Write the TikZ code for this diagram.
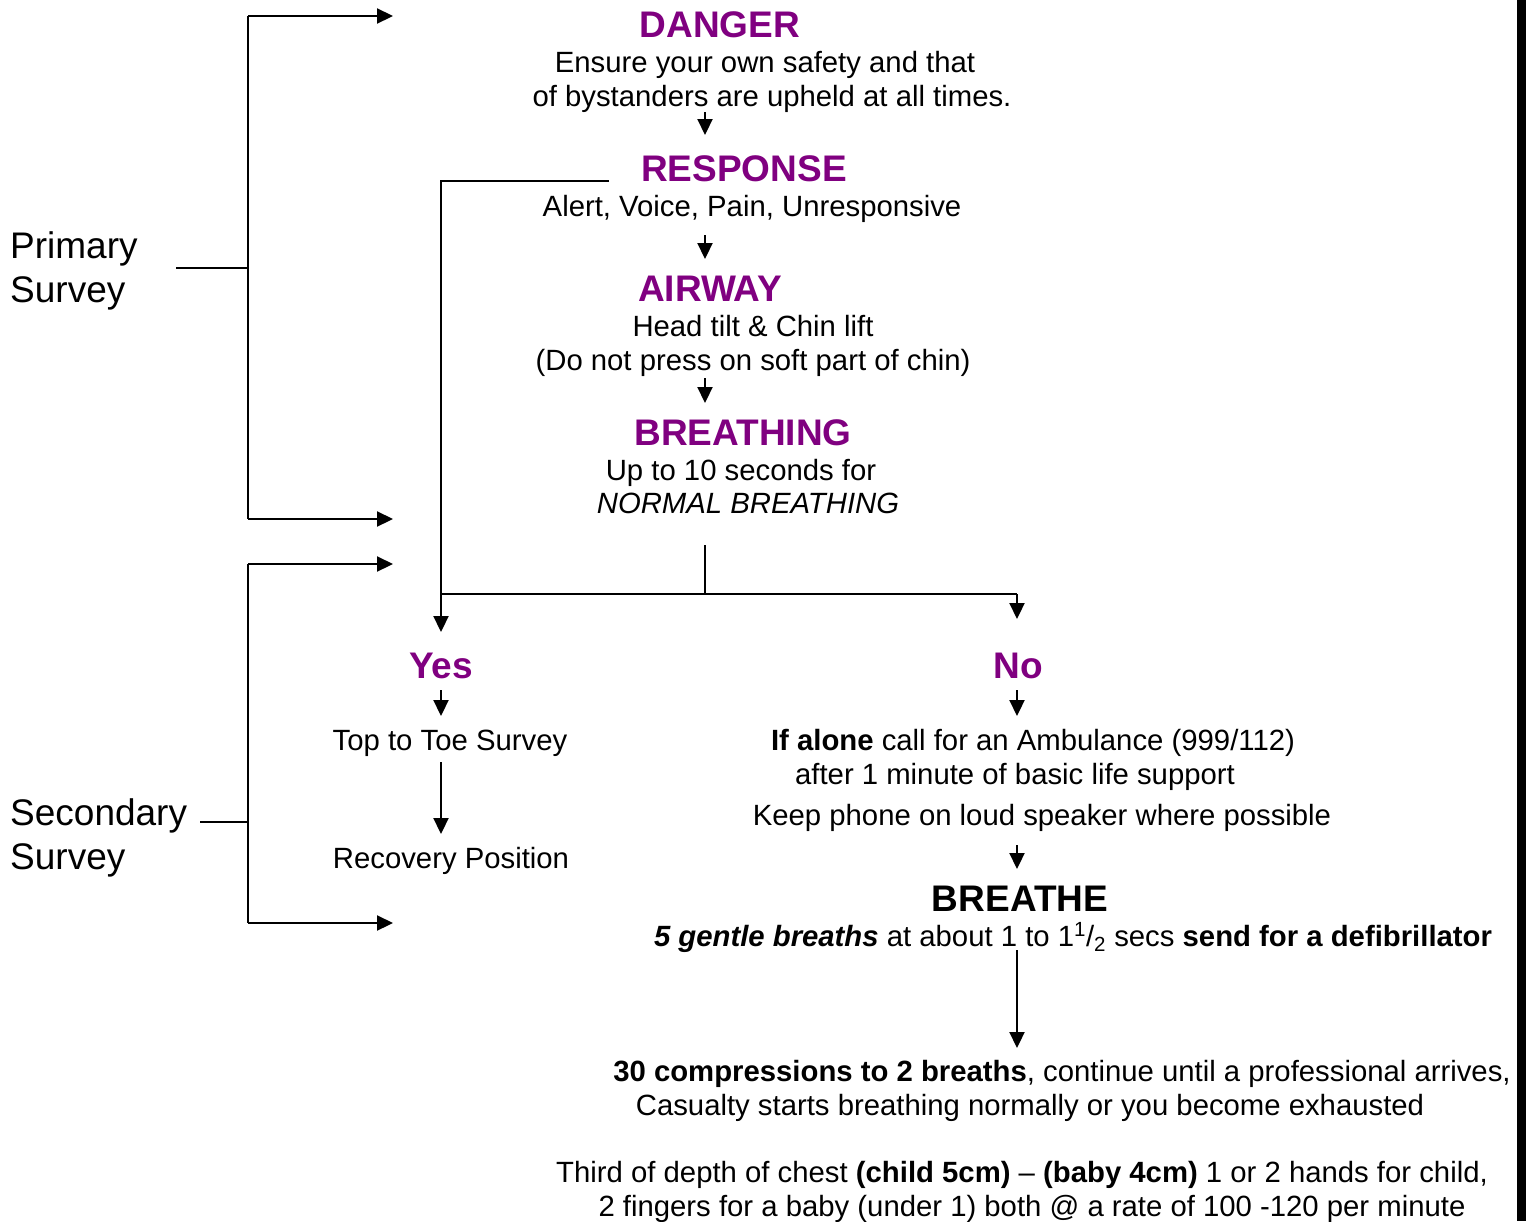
\documentclass[tikz,border=0pt]{standalone}
\usepackage{fontspec}
\setmainfont{Liberation Sans}
\usetikzlibrary{arrows.meta}
\definecolor{hd}{HTML}{800080}
\begin{document}
\begin{tikzpicture}[x=1pt,y=-1pt,
 body/.style={font=\fontsize{29.3}{34}\selectfont, inner sep=0pt, anchor=base},
 head/.style={font=\fontsize{37}{40}\selectfont\bfseries, text=hd, inner sep=0pt, anchor=base},
 side/.style={font=\fontsize{37}{44}\selectfont, inner sep=0pt, anchor=base west},
 ln/.style={line width=2.2pt},
 arr/.style={line width=2.2pt, -{Triangle[width=15pt,length=16pt]}}]
\useasboundingbox (0,0) rectangle (1526,1221);
\fill (1517,0) rectangle (1526,1221);
% texts
\node[head] (danger) at (720,37) {DANGER};
\node[body] (d1) at (765,72) {Ensure your own safety and that};
\node[body] (d2) at (772,106) {of bystanders are upheld at all times.};
\node[head] (resp) at (744,181) {RESPONSE};
\node[body] (r1) at (752,216) {Alert, Voice, Pain, Unresponsive};
\node[head] (air) at (710,301) {AIRWAY};
\node[body] (a1) at (753,336) {Head tilt \& Chin lift};
\node[body] (a2) at (753,370) {(Do not press on soft part of chin)};
\node[head] (br) at (743,445) {BREATHING};
\node[body] (b1) at (741,480) {Up to 10 seconds for};
\node[body] (b2) at (748,513) {\itshape NORMAL BREATHING};
\node[head] (yes) at (441,678) {Yes};
\node[head] (no) at (1018,678) {No};
\node[body] (y1) at (450,750) {Top to Toe Survey};
\node[body] (y2) at (451,868) {Recovery Position};
\node[body] (n1) at (1033,750) {\textbf{If alone} call for an Ambulance (999/112)};
\node[body] (n2) at (1015,784) {after 1 minute of basic life support};
\node[body] (n3) at (1042,825) {Keep phone on loud speaker where possible};
\node[head,text=black] (bre) at (1020,911) {BREATHE};
\node[body] (g1) at (1073,946) {\textbf{\itshape 5 gentle breaths} at about 1 to 1\textsuperscript{1}/\textsubscript{2} secs \textbf{send for a defibrillator}};
\node[body] (c1) at (1062,1081) {\textbf{30 compressions to 2 breaths}, continue until a professional arrives,};
\node[body] (c2) at (1030,1115) {Casualty starts breathing normally or you become exhausted};
\node[body] (t1) at (1022,1182) {Third of depth of chest \textbf{(child 5cm)} – \textbf{(baby 4cm)} 1 or 2 hands for child,};
\node[body] (t2) at (1032,1216) {2 fingers for a baby (under 1) both @ a rate of 100 -120 per minute};
\node[side] (ps1) at (10,258) {Primary};
\node[side] (ps2) at (10,302) {Survey};
\node[side] (ss1) at (10,825) {Secondary};
\node[side] (ss2) at (10,869) {Survey};
% connector points
\coordinate (m1a) at (705,112); \coordinate (m1b) at (705,135);
\coordinate (m2a) at (705,235); \coordinate (m2b) at (705,259);
\coordinate (m3a) at (705,378); \coordinate (m3b) at (705,403);
\coordinate (m4a) at (705,545); \coordinate (m4b) at (705,594);
\coordinate (hl) at (441,594); \coordinate (hr) at (1017,594); \coordinate (hrt) at (1017,619);
\coordinate (rs) at (609,181); \coordinate (rc) at (441,181); \coordinate (rt) at (441,632);
\coordinate (ya) at (441,690); \coordinate (yb) at (441,716);
\coordinate (na) at (1017,690); \coordinate (nb) at (1017,716);
\coordinate (ta) at (441,762); \coordinate (tb) at (441,834);
\coordinate (ka) at (1017,845); \coordinate (kb) at (1017,869);
\coordinate (ga) at (1017,950); \coordinate (gb) at (1017,1048);
\coordinate (pl) at (176,268); \coordinate (pm) at (248,268);
\coordinate (pt) at (248,16); \coordinate (ptt) at (393,16);
\coordinate (pb) at (248,519); \coordinate (pbt) at (393,519);
\coordinate (sl) at (200,822); \coordinate (sm) at (248,822);
\coordinate (st) at (248,564); \coordinate (stt) at (393,564);
\coordinate (sb) at (248,923); \coordinate (sbt) at (393,923);
% connectors
\draw[arr] (m1a) -- (m1b);
\draw[arr] (m2a) -- (m2b);
\draw[arr] (m3a) -- (m3b);
\draw[ln] (m4a) -- (m4b);
\draw[ln] (hl) -- (hr);
\draw[arr] (hr) -- (hrt);
\draw[arr] (rs) -- (rc) -- (rt);
\draw[arr] (ya) -- (yb);
\draw[arr] (na) -- (nb);
\draw[arr] (ta) -- (tb);
\draw[arr] (ka) -- (kb);
\draw[arr] (ga) -- (gb);
\draw[ln] (pl) -- (pm);
\draw[arr] (pt) -- (ptt);
\draw[ln] (pt) -- (pb);
\draw[arr] (pb) -- (pbt);
\draw[ln] (sl) -- (sm);
\draw[arr] (st) -- (stt);
\draw[ln] (st) -- (sb);
\draw[arr] (sb) -- (sbt);
\end{tikzpicture}
\end{document}
